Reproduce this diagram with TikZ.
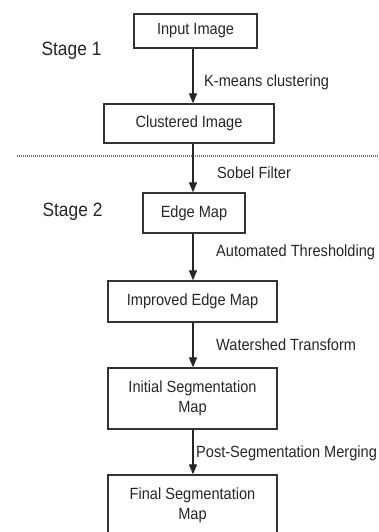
\documentclass[tikz,border=0pt]{standalone}
\usepackage{fontspec}
\setmainfont{Liberation Sans}[FakeStretch=0.9]
\usetikzlibrary{arrows.meta}
\begin{document}
\begin{tikzpicture}[x=1pt,y=-1pt,
  box/.style={draw=black!80,line width=1.3pt,inner sep=0pt,align=center,text=black!85,
    font=\fontsize{16.2}{20}\selectfont},
  lbl/.style={anchor=west,inner sep=0pt,text=black!85,font=\fontsize{16.2}{19}\selectfont},
  stg/.style={inner sep=0pt,text=black!85,font=\fontsize{19.3}{22}\selectfont},
  flow/.style={draw=black!85,line width=1.1pt,-{Triangle[length=10pt,width=8pt]}},
  sep/.style={draw=black!55,line width=1.2pt,dash pattern=on 1pt off 1pt}]
\clip (0,0) rectangle (378,532);
\useasboundingbox (0,0) rectangle (378,532);

% boxes
\node[box,minimum width=123pt,minimum height=34pt] (in)  at (195.5,31)  {Input Image};
\node[box,minimum width=170pt,minimum height=39pt] (cl)  at (189,123.5) {Clustered Image};
\node[box,minimum width=102pt,minimum height=40pt] (em)  at (194,213)   {Edge Map};
\node[box,minimum width=169pt,minimum height=41pt] (iem) at (192.5,301.5) {Improved Edge Map};
\node[box,minimum width=169pt,minimum height=61pt] (ism) at (192.5,398.5) {Initial Segmentation\\Map};
\node[box,minimum width=169pt,minimum height=61pt] (fsm) at (192.5,505.5) {Final Segmentation\\Map};

% stage labels
\node[stg] (s1) at (71.5,51)  {Stage 1};
\node[stg] (s2) at (72.5,212) {Stage 2};

% separator
\coordinate (dl) at (17,156);
\coordinate (dr) at (378,156);
\draw[sep] (dl) -- (dr);

% connectors
\coordinate (ax) at (193,0);
\draw[flow] (in.south -| ax)  -- (cl.north -| ax);
\draw[flow] (cl.south -| ax)  -- (em.north -| ax);
\draw[flow] (em.south -| ax)  -- (iem.north -| ax);
\draw[flow] (iem.south -| ax) -- (ism.north -| ax);
\draw[flow] (ism.south -| ax) -- (fsm.north -| ax);

% connector labels
\node[lbl] (l1) at (204,82)  {K-means clustering};
\node[lbl] (l2) at (217,173) {Sobel Filter};
\node[lbl] (l3) at (216,252) {Automated Thresholding};
\node[lbl] (l4) at (216,345) {Watershed Transform};
\node[lbl] (l5) at (196,453) {Post-Segmentation Merging};
\end{tikzpicture}
\end{document}
